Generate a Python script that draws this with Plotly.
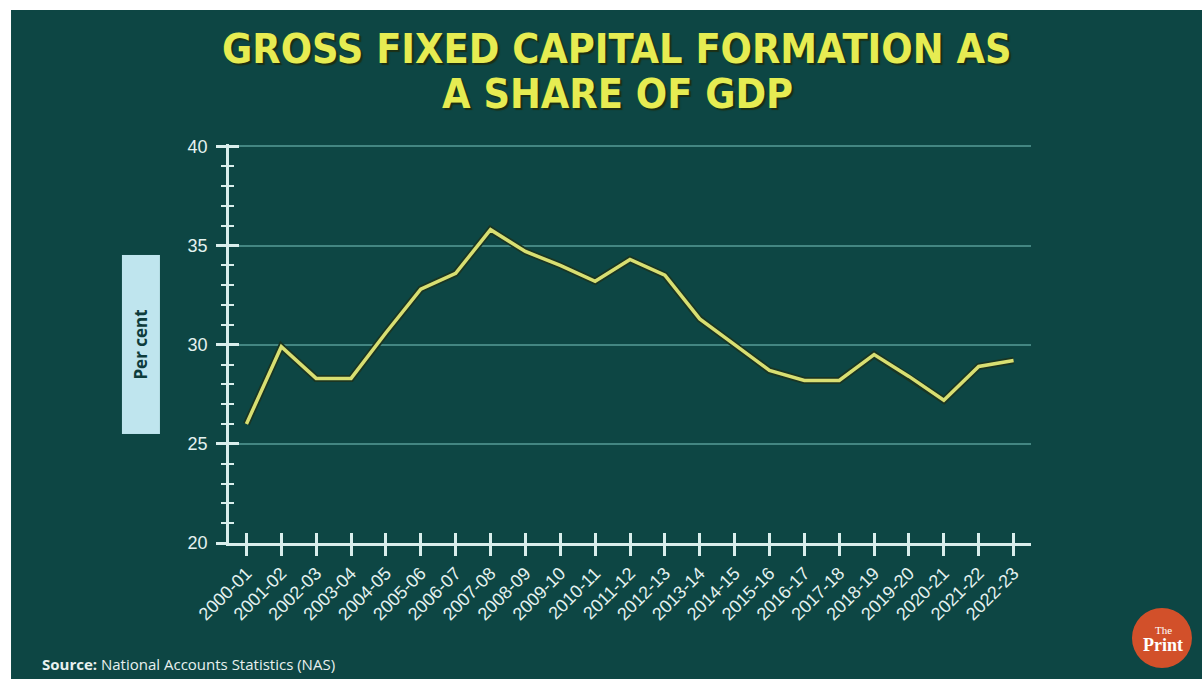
import plotly.graph_objects as go

years = ["2000-01", "2001-02", "2002-03", "2003-04", "2004-05", "2005-06", "2006-07",
         "2007-08", "2008-09", "2009-10", "2010-11", "2011-12", "2012-13", "2013-14",
         "2014-15", "2015-16", "2016-17", "2017-18", "2018-19", "2019-20", "2020-21",
         "2021-22", "2022-23"]
gfcf_share = [26.0, 29.9, 28.3, 28.3, 30.6, 32.8, 33.6, 35.8, 34.7, 34.0, 33.2, 34.3,
              33.5, 31.3, 30.0, 28.7, 28.2, 28.2, 29.5, 28.4, 27.2, 28.9, 29.2]
y_ticks = [20, 25, 30, 35, 40]

BG = "#0d4644"
AXIS = "#d9eeec"
TICKFONT = dict(family="Liberation Sans, Arial, sans-serif", size=18, color="#e4f2f0")
TITLEFONT = dict(family="DejaVu Sans Condensed, Liberation Sans Narrow, Arial Narrow, sans-serif",
                 size=41, color="#e6ec52", weight="bold", shadow="2px 2px 1px #1c2f14")

fig = go.Figure()
# dark outline under the line
fig.add_trace(go.Scatter(x=years, y=gfcf_share, mode="lines",
                         line=dict(color="#1a3522", width=7),
                         hoverinfo="skip", showlegend=False, xaxis="x", yaxis="y"))
# main line
fig.add_trace(go.Scatter(x=years, y=gfcf_share, mode="lines",
                         line=dict(color="#d8df72", width=3.5),
                         showlegend=False, xaxis="x2", yaxis="y2"))

xr = [-0.5, len(years) - 0.5]
yr = [20, 40.12]

fig.update_layout(
    width=1202, height=679,
    margin=dict(l=229, r=171, t=144, b=136),
    paper_bgcolor=BG, plot_bgcolor="rgba(0,0,0,0)",
    xaxis=dict(type="category", range=xr, showgrid=False, zeroline=False,
               showline=True, linecolor=AXIS, linewidth=2.5,
               ticks="outside", ticklen=10, tickwidth=2.5, tickcolor=AXIS,
               tickangle=-45, tickfont=dict(TICKFONT, size=18)),
    xaxis2=dict(type="category", range=xr, overlaying="x", matches="x", side="bottom",
                showgrid=False, zeroline=False, showline=False,
                ticks="inside", ticklen=10, tickwidth=2.5, tickcolor=AXIS,
                showticklabels=False),
    yaxis=dict(range=yr, tickvals=y_ticks, showgrid=True, gridcolor="#438682", gridwidth=2,
               zeroline=False, showline=True, linecolor=AXIS, linewidth=2.5,
               ticks="outside", ticklen=10, tickwidth=2.5, tickcolor=AXIS,
               minor=dict(dtick=1, ticks="outside", ticklen=5, tickwidth=2, tickcolor=AXIS,
                          showgrid=False),
               tickfont=TICKFONT, ticklabelstandoff=5),
    yaxis2=dict(range=yr, overlaying="y", side="left", tickvals=y_ticks,
                showgrid=False, zeroline=False, showline=False,
                ticks="inside", ticklen=10, tickwidth=2.5, tickcolor=AXIS,
                minor=dict(dtick=1, ticks="inside", ticklen=5, tickwidth=2, tickcolor=AXIS,
                           showgrid=False),
                showticklabels=False),
    shapes=[
        dict(type="rect", xref="paper", yref="paper", x0=-0.4, x1=-0.2718, y0=-0.5, y1=1.6,
             fillcolor="white", line=dict(width=0), layer="below"),
        dict(type="rect", xref="paper", yref="paper", x0=-0.4, x1=1.4, y0=1.3358, y1=1.6,
             fillcolor="white", line=dict(width=0), layer="below"),
        dict(type="circle", xref="paper", yref="paper", x0=1.1259, x1=1.2007,
             y0=-0.3133, y1=-0.1629, fillcolor="#d2502a", line=dict(width=0)),
    ],
    annotations=[
        dict(text="GROSS FIXED CAPITAL FORMATION AS", xref="paper", yref="paper",
             x=0.4838, y=1.2381, xanchor="center", yanchor="middle", showarrow=False,
             font=TITLEFONT),
        dict(text="A SHARE OF GDP", xref="paper", yref="paper",
             x=0.4838, y=1.1253, xanchor="center", yanchor="middle", showarrow=False,
             font=TITLEFONT),
        dict(text="<b>Per cent</b>", xref="paper", yref="paper", x=-0.1104, y=0.4987,
             xanchor="center", yanchor="middle", showarrow=False, textangle=-90,
             width=176, height=35, bgcolor="#bfe5ee",
             font=dict(family="Open Sans, sans-serif", size=17, color="#0e3c3b")),
        dict(text="<b>Source:</b> National Accounts Statistics (NAS)", xref="paper", yref="paper",
             x=-0.2357, y=-0.3033, xanchor="left", yanchor="middle", showarrow=False,
             font=dict(family="Open Sans, sans-serif", size=15, color="#e8f1ef")),
        dict(text="The", xref="paper", yref="paper", x=1.1646, y=-0.2180,
             xanchor="center", yanchor="middle", showarrow=False,
             font=dict(family="Liberation Serif, DejaVu Serif, serif", size=11, color="white")),
        dict(text="<b>Print</b>", xref="paper", yref="paper", x=1.1646, y=-0.2556,
             xanchor="center", yanchor="middle", showarrow=False,
             font=dict(family="Liberation Serif, DejaVu Serif, serif", size=18, color="white")),
    ],
)

fig.write_html("out.html")
